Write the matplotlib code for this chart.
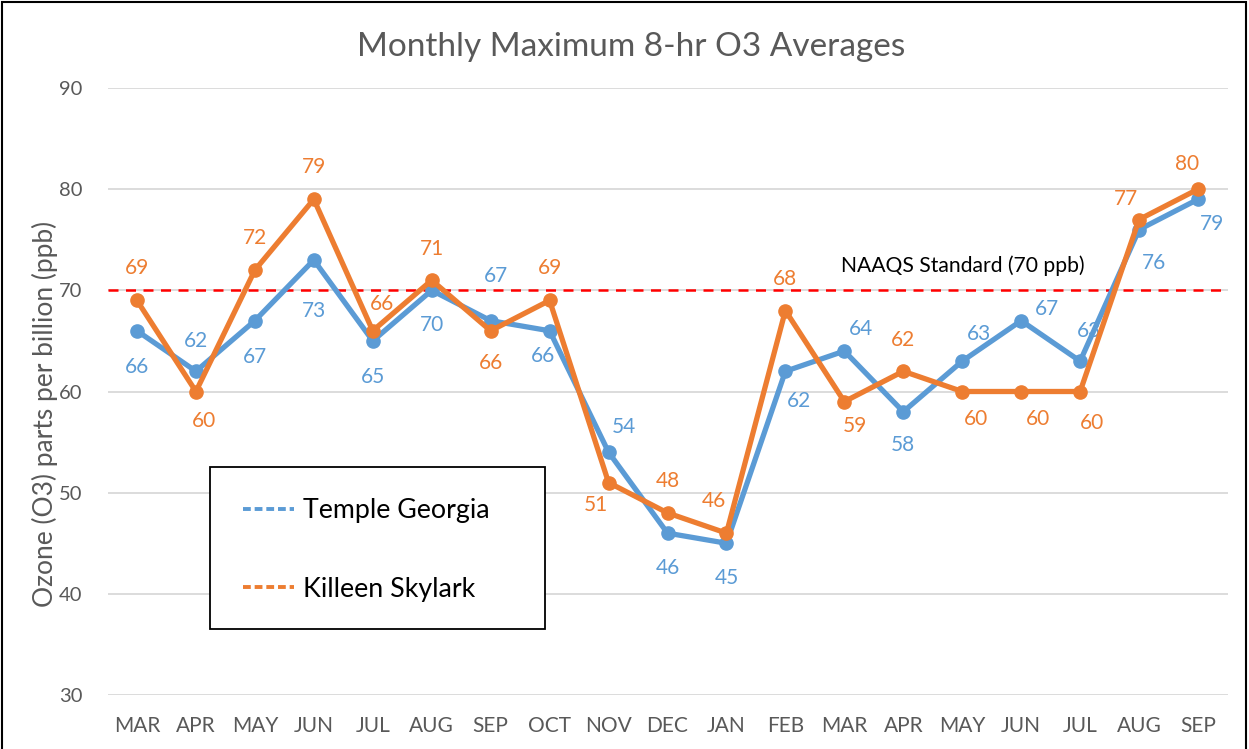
import matplotlib
matplotlib.use("Agg")
import matplotlib.pyplot as plt
from matplotlib.lines import Line2D
from matplotlib.patches import Rectangle

months = ["MAR", "APR", "MAY", "JUN", "JUL", "AUG", "SEP", "OCT", "NOV", "DEC",
          "JAN", "FEB", "MAR", "APR", "MAY", "JUN", "JUL", "AUG", "SEP"]
temple = [66, 62, 67, 73, 65, 70, 67, 66, 54, 46, 45, 62, 64, 58, 63, 67, 63, 76, 79]
killeen = [69, 60, 72, 79, 66, 71, 66, 69, 51, 48, 46, 68, 59, 62, 60, 60, 60, 77, 80]
naaqs = 70
y_ticks = [30, 40, 50, 60, 70, 80, 90]

# label offsets in pixels (dx right, dy down as in image)
temple_off = [(0, 36), (0, -30), (0, 36), (0, 51), (0, 36), (0, 35), (5, -45), (-7, 25),
              (15, -25), (0, 35), (0, 35), (14, 30), (17, -22), (0, 33), (17, -27),
              (26, -12), (9, -30), (15, 33), (14, 25)]
killeen_off = [(0, -32), (8, 29), (0, -32), (0, -32), (9, -27), (0, -31), (0, 32), (0, -32),
               (-13, 22), (0, -32), (-13, -32), (0, -32), (11, 24), (0, -31), (14, 27),
               (17, 27), (12, 31), (-13, -21), (-11, -25)]

BLUE = "#5B9BD5"
ORANGE = "#ED7D31"
GRAY = "#595959"
FONT = ["Lato", "DejaVu Sans"]
plt.rcParams["font.family"] = FONT

fig = plt.figure(figsize=(12.49, 7.49), dpi=100)
ax = fig.add_axes([107.5 / 1249, 54 / 749, 1120 / 1249, 607 / 749])

x = list(range(len(months)))
ax.plot(x, temple, color=BLUE, lw=3.8, marker="o", ms=9.5, zorder=3,
        solid_joinstyle="round")
ax.plot(x, killeen, color=ORANGE, lw=3.8, marker="o", ms=9.5, zorder=5,
        solid_joinstyle="round")

for xi, v, (dx, dy) in zip(x, temple, temple_off):
    ax.annotate(str(v), (xi, v), xytext=(dx, -dy), textcoords="offset pixels",
                ha="center", va="center", color=BLUE, fontsize=15, zorder=4)
for xi, v, (dx, dy) in zip(x, killeen, killeen_off):
    ax.annotate(str(v), (xi, v), xytext=(dx, -dy), textcoords="offset pixels",
                ha="center", va="center", color=ORANGE, fontsize=15, zorder=6)

ax.axhline(naaqs, color="#FF0000", lw=1.8, ls=(0, (4, 3)), zorder=2)

ax.set_xlim(-0.5, len(months) - 0.5)
ax.set_ylim(30, 90)
ax.set_yticks(y_ticks)
ax.set_xticks(x)
ax.set_xticklabels(months)
ax.tick_params(axis="both", length=0, colors=GRAY)
ax.tick_params(axis="x", pad=15, labelsize=15)
ax.tick_params(axis="y", pad=18, labelsize=14.5)
ax.grid(axis="y", color="#D9D9D9", lw=1.3, zorder=0)
for s in ax.spines.values():
    s.set_visible(False)

ax.set_ylabel("Ozone (O3) parts per billion (ppb)", fontsize=19, color=GRAY)
ax.yaxis.set_label_coords((45 - 107.5) / 1120, (749 - 413.5 - 54) / 607)
ax.yaxis.label.set_va("center")

fig.text(963 / 1249, 1 - 266 / 749, "NAAQS Standard (70 ppb)", ha="center",
         va="center", fontsize=15.2, color="black", zorder=8)

fig.text(631 / 1249, 1 - 47 / 749, "Monthly Maximum 8-hr O3 Averages", ha="center",
         va="center", fontsize=24, color=GRAY)

# legend box
fig.patches.append(Rectangle((210 / 1249, 1 - 629 / 749), 335 / 1249, 162 / 749,
                             transform=fig.transFigure, fill=True, facecolor="white",
                             edgecolor="black", lw=1.3, zorder=7))
handles = [Line2D([], [], color=BLUE, lw=2.8, ls=(0, (2, 1))),
           Line2D([], [], color=ORANGE, lw=2.8, ls=(0, (2, 1)))]
leg = fig.legend(handles, ["Temple Georgia", "Killeen Skylark"], loc="upper left",
                 bbox_to_anchor=(243 / 1249, 1 - 498 / 749), frameon=False, fontsize=19.3,
                 labelspacing=2.0, handlelength=1.9, handletextpad=0.35, borderpad=0,
                 borderaxespad=0)
leg.set_zorder(9)

# figure border
fig.patches.append(Rectangle((1.5 / 1249, -0.05), 1244 / 1249, 1.05 - 2 / 749,
                             transform=fig.transFigure, fill=False, edgecolor="black", lw=1.5))

fig.savefig("out.png", dpi=100)
